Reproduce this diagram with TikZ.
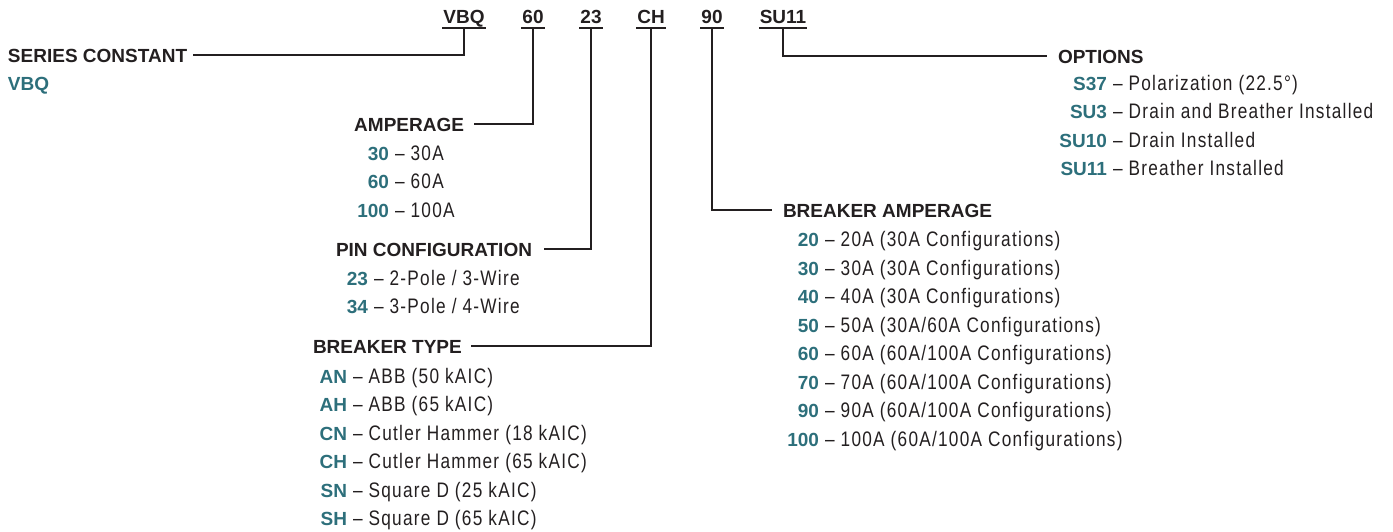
\documentclass[tikz,border=0pt]{standalone}
\usepackage{fontspec}
\setmainfont{Liberation Sans}
\newfontfamily\bodyfont[FakeStretch=0.82,LetterSpace=6]{Liberation Sans}
\usetikzlibrary{calc}
\definecolor{ink}{HTML}{231F20}
\definecolor{codecol}{HTML}{2D6F7B}
\newcommand{\cd}[1]{{\normalfont\fontsize{19}{22}\selectfont\bfseries\color{codecol}#1}}
\begin{document}
\begin{tikzpicture}[x=1pt,y=-1pt,
  every node/.style={inner sep=0pt, outer sep=0pt, text=ink},
  head/.style={font=\fontsize{19}{22}\selectfont\bfseries, text height=13.6pt, text depth=0pt},
  item/.style={font=\fontsize{21}{24}\selectfont\bodyfont, anchor=base west},
  link/.style={draw=ink, line width=2.5pt},
  uline/.style={draw=ink, line width=1.1pt}]
\useasboundingbox (0,0) rectangle (1393,531);

% code letters at top
\node[head, anchor=base] (cVBQ) at (464,23) {VBQ};
\node[head, anchor=base] (c60) at (533,23) {60};
\node[head, anchor=base] (c23) at (591,23) {23};
\node[head, anchor=base] (cCH) at (651,23) {CH};
\node[head, anchor=base] (c90) at (712,23) {90};
\node[head, anchor=base] (cSU) at (783,23) {SU11};
\foreach \n in {cVBQ,c60,c23,cCH,c90,cSU}{
  \draw[uline] ($(\n.base west)+(-1,5)$) -- ($(\n.base east)+(1,5)$);
  \coordinate (u\n) at ($(\n.base)+(0,5)$);
}

% headers
\node[head, anchor=base west] (hSC) at (8,62) {SERIES CONSTANT};
\node[head, anchor=base west] (vSC) at (8,90) {\color{codecol}VBQ};
\node[head, anchor=base east] (hAMP) at (464,131) {AMPERAGE};
\node[head, anchor=base east] (hPIN) at (532,256) {PIN CONFIGURATION};
\node[head, anchor=base west] (hBT) at (313,353) {BREAKER TYPE};
\node[head, anchor=base west] (hBA) at (783,217) {BREAKER AMPERAGE};
\node[head, anchor=base west] (hOPT) at (1058,63) {OPTIONS};

% connectors
\draw[link] (ucVBQ) |- ([xshift=6pt]hSC.east);
\draw[link] (uc60) |- ([xshift=10pt]hAMP.east);
\draw[link] (uc23) |- ([xshift=12pt]hPIN.east);
\draw[link] (ucCH) |- ([xshift=9pt]hBT.east);
\draw[link] (uc90) |- ([xshift=-11pt]hBA.west);
\draw[link] (ucSU) |- ([xshift=-11pt]hOPT.west);

% amperage
\node[item] (a1) at (389,160) {\llap{\cd{30}}\ – 30A};
\node[item] (a2) at (389,188) {\llap{\cd{60}}\ – 60A};
\node[item] (a3) at (389,217) {\llap{\cd{100}}\ – 100A};

% pin configuration
\node[item] (p1) at (368,285) {\llap{\cd{23}}\ – 2-Pole / 3-Wire};
\node[item] (p2) at (368,313) {\llap{\cd{34}}\ – 3-Pole / 4-Wire};

% breaker type
\node[item] (t1) at (347,383) {\llap{\cd{AN}}\ – ABB (50 kAIC)};
\node[item] (t2) at (347,411) {\llap{\cd{AH}}\ – ABB (65 kAIC)};
\node[item] (t3) at (347,440) {\llap{\cd{CN}}\ – Cutler Hammer (18 kAIC)};
\node[item] (t4) at (347,468) {\llap{\cd{CH}}\ – Cutler Hammer (65 kAIC)};
\node[item] (t5) at (347,497) {\llap{\cd{SN}}\ – Square D (25 kAIC)};
\node[item] (t6) at (347,525) {\llap{\cd{SH}}\ – Square D (65 kAIC)};

% breaker amperage
\node[item] (b1) at (819,246) {\llap{\cd{20}}\ – 20A (30A Configurations)};
\node[item] (b2) at (819,275) {\llap{\cd{30}}\ – 30A (30A Configurations)};
\node[item] (b3) at (819,303) {\llap{\cd{40}}\ – 40A (30A Configurations)};
\node[item] (b4) at (819,332) {\llap{\cd{50}}\ – 50A (30A/60A Configurations)};
\node[item] (b5) at (819,360) {\llap{\cd{60}}\ – 60A (60A/100A Configurations)};
\node[item] (b6) at (819,389) {\llap{\cd{70}}\ – 70A (60A/100A Configurations)};
\node[item] (b7) at (819,417) {\llap{\cd{90}}\ – 90A (60A/100A Configurations)};
\node[item] (b8) at (819,446) {\llap{\cd{100}}\ – 100A (60A/100A Configurations)};

% options
\node[item] (o1) at (1107,90) {\llap{\cd{S37}}\ – Polarization (22.5°)};
\node[item] (o2) at (1107,118) {\llap{\cd{SU3}}\ – Drain and Breather Installed};
\node[item] (o3) at (1107,147) {\llap{\cd{SU10}}\ – Drain Installed};
\node[item] (o4) at (1107,175) {\llap{\cd{SU11}}\ – Breather Installed};
\end{tikzpicture}
\end{document}
